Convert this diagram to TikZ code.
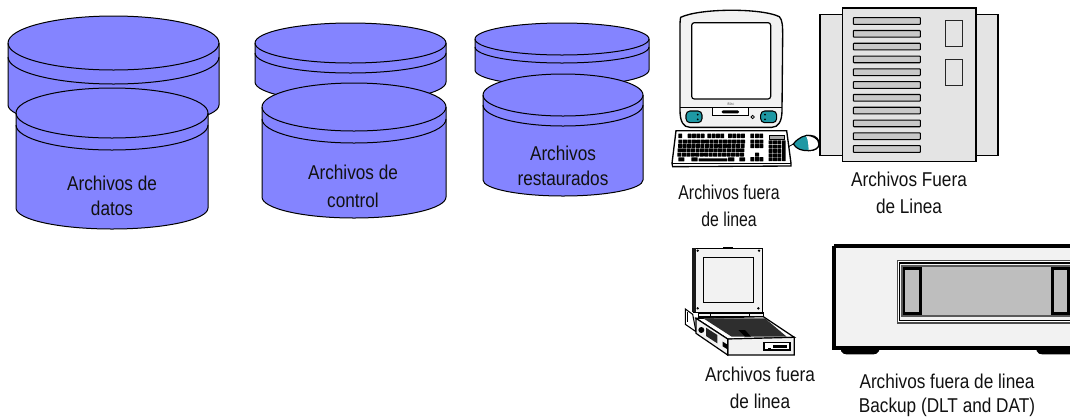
\documentclass[tikz,border=0pt]{standalone}
\usepackage{fontspec}
\setmainfont[FakeStretch=0.86]{Liberation Sans}
\definecolor{diskfill}{HTML}{8484FF}
\definecolor{lightface}{HTML}{F2F2F2}
\definecolor{rackface}{HTML}{E4E4E4}
\definecolor{slotgrey}{HTML}{BEBEBE}
\definecolor{teal1}{HTML}{1E98A4}
\definecolor{inkdark}{HTML}{111111}
\newcommand{\diskshape}[7]{% xl xr cy ry off sideend rybottom
  \pgfmathsetmacro{\rxv}{(#2-#1)/2}
  \draw[diskline,fill=diskfill] (#1,#3) arc[start angle=180,end angle=360,x radius=\rxv,y radius=#4] -- (#2,#6) arc[start angle=0,end angle=180,x radius=\rxv,y radius=#7] -- cycle;
  \draw[diskline] (#1,#3) arc[start angle=180,end angle=0,x radius=\rxv,y radius=#4];
  \draw[diskline] (#1,#3+#5) arc[start angle=180,end angle=0,x radius=\rxv,y radius=#4];
}
\tikzset{
  diskline/.style={draw=black,line width=.75pt},
  lab/.style={font=\fontsize{15}{16}\selectfont,inner sep=0pt,text=inkdark},
  keyblk/.style={fill=black,rounded corners=.3pt},
}
\begin{document}
\begin{tikzpicture}[x=.75pt,y=-.75pt]
\useasboundingbox (0,0) rectangle (1070,419);
% disks
\diskshape{8}{219}{43}{27}{14}{105}{22}
\diskshape{16}{208}{113}{25}{12}{208}{21}
\diskshape{255}{446}{43}{20}{10}{82}{20}
\diskshape{262}{446}{107}{24}{12}{197}{21}
\diskshape{475}{649}{39}{16}{8}{70}{16}
\diskshape{483}{643}{95}{21}{10}{180}{16}
\node[lab] (t1a) at (112,183) {Archivos de};
\node[lab] (t1b) at (112,208) {datos};
\node[lab] (t2a) at (353,172) {Archivos de};
\node[lab] (t2b) at (353,200) {control};
\node[lab] (t3a) at (563,153) {Archivos};
\node[lab] (t3b) at (563,178) {restaurados};
% rack
\begin{scope}[shift={(810,0)},x=.25pt,y=-.25pt]
  \draw[line width=1pt,fill=rackface] (30,43) rectangle (98,466);
  \draw[line width=1pt,fill=rackface] (497,43) rectangle (564,466);
  \draw[line width=1.2pt,fill=rackface] (97,24) rectangle (498,485);
  \foreach \i in {0,...,10}{
    \draw[line width=.8pt,fill=rackface!88!black,rounded corners=.5pt] (130,{53+38.4*\i}) rectangle (331,{73+38.4*\i});
  }
  \draw[line width=.9pt,draw=black!85] (406,62) rectangle (457,140);
  \draw[line width=.9pt,draw=black!85] (406,178) rectangle (457,256);
\end{scope}
% iMac
\begin{scope}[shift={(660,0)},x=.25pt,y=-.25pt]
  \draw[line width=.9pt,fill=teal1] (400,432) .. controls (415,412) and (435,405) .. (450,406) .. controls (470,407) and (478,420) .. (477,432) .. controls (476,445) and (465,452) .. (445,452) .. controls (425,452) and (410,448) .. (400,432) -- cycle;
  \fill[white] (438,407) .. controls (455,405) and (476,415) .. (476,432) .. controls (476,445) and (462,452) .. (446,451) .. controls (445,435) and (445,420) .. (438,407) -- cycle;
  \draw[line width=.9pt] (438,406) .. controls (455,405) and (477,415) .. (477,432) .. controls (477,445) and (462,452) .. (445,452);
  \draw[line width=.6pt] (386,440) -- (400,432);
  \draw[line width=1pt,fill=lightface] (62,52) .. controls (120,24) and (305,24) .. (358,50) .. controls (368,60) and (368,80) .. (368,110) -- (366,330) .. controls (366,365) and (355,382) .. (335,382) -- (90,382) .. controls (70,382) and (60,365) .. (60,330) -- (60,90) .. controls (60,70) and (60,60) .. (62,52) -- cycle;
  \draw[line width=.8pt] (60,323) -- (366,323);
  \draw[line width=.9pt,fill=white,rounded corners=2pt] (95,68) rectangle (332,297);
  \node[inner sep=0pt,font=\fontsize{3}{3}\selectfont,text=black!60] (imaclogo) at (212,312) {iMac};
  \draw[line width=.6pt,fill=white] (156,323) rectangle (266,347);
  \fill[black,rounded corners=1pt] (185,331) rectangle (237,340);
  \draw[line width=.8pt,fill=teal1,rounded corners=3pt] (78,333) rectangle (126,368);
  \draw[line width=.8pt,fill=teal1,rounded corners=3pt] (302,333) rectangle (350,368);
  \foreach \p in {(113,344),(113,358),(315,344),(315,358)} \fill[black] \p circle[radius=3];
  \draw[line width=.6pt] (278,351) circle[radius=5];
  \draw[line width=1pt,fill=white] (48,392) -- (380,392) -- (393,490) -- (393,498) -- (38,500) -- (36,490) -- cycle;
  \draw[line width=.7pt] (36,490) -- (393,490);
  % keys
  \foreach \xx in {55,83,96,109,122,142,155,168,181,204,217,230,243,271,285,298}{ \fill[keyblk] (\xx,401) rectangle +(11.5,13); }
  \foreach \yy/\sh in {419/0,432/-1,445/-2,458/-3}{
    \foreach \k in {0,...,14}{ \fill[keyblk] ({55+\sh+13.4*\k},\yy) rectangle +(12.4,11.5); }
  }
  \foreach \yy in {419,432}{ \foreach \xx in {271,285,298}{ \fill[keyblk] (\xx,\yy) rectangle +(12,12); } }
  \fill[keyblk] (285,458) rectangle +(12,12);
  \foreach \xx in {271,285,298}{ \fill[keyblk] (\xx,471) rectangle +(12,13); }
  \draw[line width=.6pt,fill=black!35] (328,406) rectangle (373,418);
  \foreach \yy in {421,434,447,460,472}{ \foreach \xx in {326,339,352}{ \fill[keyblk] (\xx,\yy) rectangle +(12,11.5); } }
  \fill[keyblk] (366,421) rectangle +(11,62);
  \fill[keyblk] (55,472) rectangle +(18,12);
  \fill[keyblk] (94,472) rectangle +(19,12);
  \fill[keyblk] (116,475) rectangle +(86,9);
  \fill[keyblk] (204,472) rectangle +(19,12);
  \fill[keyblk] (238,472) rectangle +(17,12);
\end{scope}
% laptop
\begin{scope}[shift={(670,235)},x=.25pt,y=-.25pt]
  \draw[line width=.8pt,fill=white] (46,222) -- (68,238) -- (78,290) -- (46,268) -- cycle;
  \draw[line width=.6pt] (52,232) -- (52,262);
  \draw[line width=.9pt,fill=lightface] (70,40) -- (277,40) -- (277,232) -- (70,232) -- cycle;
  \fill[black!90] (67,40) rectangle (77,232);
  \fill[black] (160,37) rectangle (190,43);
  \draw[line width=.9pt,fill=lightface] (100,68) rectangle (250,202);
  \foreach \p in {(83,47),(267,47),(83,220),(265,220)} \fill[black] \p circle[radius=4];
  \draw[line width=.8pt,fill=lightface] (85,234) rectangle (280,246);
  \draw[line width=.6pt] (120,234) -- (120,246) (238,234) -- (238,246);
  \draw[line width=.9pt,fill=white] (78,250) -- (280,245) -- (373,307) -- (173,312) -- cycle;
  \fill[black!82] (100,250) -- (285,250) -- (350,305) -- (185,305) -- cycle;
  \fill[black] (205,285) -- (225,285) -- (243,305) -- (225,305) -- cycle;
  \draw[line width=.9pt,fill=lightface] (173,312) -- (373,307) -- (373,360) -- (173,360) -- cycle;
  \draw[line width=.9pt,fill=lightface] (78,250) -- (173,312) -- (173,360) -- (78,295) -- cycle;
  \fill[black] (94,285) circle[radius=9];
  \fill[black!85] (108,278) -- (142,300) -- (142,325) -- (108,303) -- cycle;
  \fill[black] (158,320) -- (171,328) -- (171,342) -- (158,334) -- cycle;
  \draw[line width=.8pt,fill=white] (282,322) rectangle (360,345);
  \fill[black] (310,330) rectangle (352,340);
  \fill[black] (295,340) rectangle (302,344);
\end{scope}
% tape drive
\begin{scope}[shift={(825,235)},x=.25pt,y=-.25pt]
  \fill[black] (48,340) -- (162,340) -- (162,348) .. controls (158,356) and (152,358) .. (145,358) -- (65,358) .. controls (58,358) and (52,356) .. (48,348) -- cycle;
  \fill[black] (635,340) -- (735,340) -- (735,358) -- (652,358) .. controls (645,358) and (638,356) .. (635,348) -- cycle;
  \fill[lightface] (25,30) rectangle (735,340);
  \draw[line width=3pt,draw=black] (27,32) -- (735,32) (27,32) -- (27,338) -- (735,338);
  \draw[line width=.8pt,draw=black!70,fill=white] (217,76) rectangle (740,264);
  \draw[line width=.8pt,draw=black,fill=lightface] (224,84) rectangle (740,256);
  \draw[line width=1.6pt,draw=black!65,fill=slotgrey] (232,94) rectangle (740,244);
  \draw[line width=2.2pt,draw=black,fill=slotgrey] (237,101) rectangle (286,235);
  \draw[line width=2.2pt,draw=black,fill=slotgrey] (683,101) rectangle (731,235);
\end{scope}
% labels
\node[lab] (c1a) at (729,192) {\scalebox{.92}[1]{Archivos fuera}};
\node[lab] (c1b) at (729,219) {\scalebox{.92}[1]{de linea}};
\node[lab] (r1a) at (909,179) {Archivos Fuera};
\node[lab] (r1b) at (909,206) {de Linea};
\node[lab] (l1a) at (760,374) {Archivos fuera};
\node[lab] (l1b) at (760,401) {de linea};
\node[lab] (d1a) at (947,381) {Archivos fuera de linea};
\node[lab] (d1b) at (947,407) {Backup (DLT and DAT)};
\end{tikzpicture}
\end{document}
